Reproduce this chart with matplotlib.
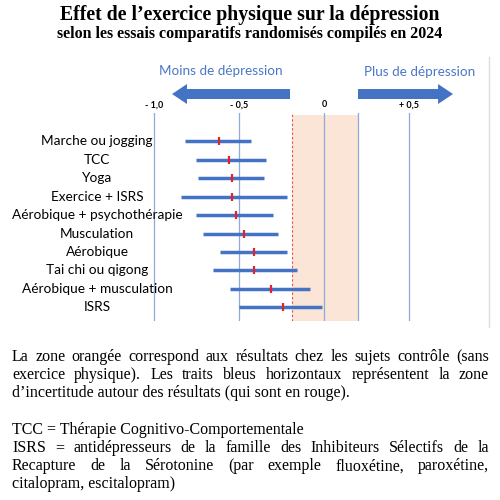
import matplotlib
matplotlib.use('Agg')
import matplotlib.pyplot as plt
from matplotlib.patches import FancyArrow

# valeurs (taille d'effet et intervalle)
traitements = ['Marche ou jogging', 'TCC', 'Yoga', 'Exercice + ISRS',
               'Aérobique + psychothérapie', 'Musculation', 'Aérobique',
               'Tai chi ou qigong', 'Aérobique + musculation', 'ISRS']
effet = [-0.62, -0.56, -0.54, -0.54, -0.52, -0.47, -0.41, -0.41, -0.31, -0.24]
bas = [-0.82, -0.75, -0.74, -0.84, -0.75, -0.71, -0.61, -0.65, -0.55, -0.50]
haut = [-0.43, -0.34, -0.35, -0.22, -0.30, -0.27, -0.22, -0.16, -0.08, -0.01]
zone_controle = [-0.19, 0.20]
graduations = [-1.0, -0.5, 0, 0.5]
etiquettes = ['- 1,0', '- 0,5', '0', '+ 0,5']

titre = 'Effet de l’exercice physique sur la dépression'
sous_titre = 'selon les essais comparatifs randomisés compilés en 2024'
texte = [
    ('La zone orangée correspond aux résultats chez les sujets contrôle (sans', True),
    ('exercice physique). Les traits bleus horizontaux représentent la zone', True),
    ('d’incertitude autour des résultats (qui sont en rouge).', False),
    ('', False),
    ('TCC = Thérapie Cognitivo-Comportementale', False),
    ('ISRS = antidépresseurs de la famille des Inhibiteurs Sélectifs de la', True),
    ('Recapture de la Sérotonine (par exemple fluoxétine, paroxétine,', True),
    ('citalopram, escitalopram)', False),
]

BLEU = '#4472C4'
SERIF = 'Liberation Serif'
SANS = 'Lato'


def justifier(ax, lignes, x0, x1, y0, pas, renderer, **kw):
    for k, (ligne, just) in enumerate(lignes):
        y = y0 + k * pas
        if not ligne:
            continue
        if not just:
            ax.text(x0, y, ligne, va='center', ha='left', **kw)
            continue
        mots = ligne.split()
        objets = [ax.text(0, y, m, va='center', ha='left', **kw) for m in mots]
        larg = [o.get_window_extent(renderer).width for o in objets]
        esp = (x1 - x0 - sum(larg)) / (len(mots) - 1)
        x = x0
        for o, w in zip(objets, larg):
            o.set_x(x)
            x += w + esp


fig = plt.figure(figsize=(5, 5), dpi=100)
fig.patch.set_facecolor('white')

# calque en pixels pour les textes
ax0 = fig.add_axes([0, 0, 1, 1])
ax0.set_xlim(0, 500)
ax0.set_ylim(500, 0)
ax0.axis('off')

ax0.text(250, 15, titre, ha='center', va='center', fontsize=14.2,
         fontweight='bold', family=SERIF)
ax0.text(250, 34, sous_titre, ha='center', va='center', fontsize=11.5,
         fontweight='bold', family=SERIF)
ax0.plot([489, 489], [57, 327], color='#dcdcdc', lw=1)

# graphique
ax = fig.add_axes([0, 1 - 321 / 500, 1, 208 / 500])
ax.set_xlim(-324 / 170, 176 / 170)
ax.set_ylim(9.73, -1.514)
ax.axis('off')
ax.patch.set_alpha(0)

ax.axvspan(zone_controle[0], zone_controle[1], ymax=0.99, color='#FBE5D6', lw=0)
for g in graduations + [zone_controle[1]]:
    ax.axvline(g, color='#8EA9DB', lw=0.9)
ax.axvline(zone_controle[0], color='#e8202a', lw=0.8, ls=(0, (2, 2)), alpha=0.8)

lignes = list(range(len(traitements)))
ax.hlines(lignes, bas, haut, color=BLEU, lw=2.5)
ax.plot(effet, lignes, ls='none', marker='|', ms=5.5, mew=1.6, color='#e8202a')

for i, nom in enumerate(traitements):
    ax.text(-1.335, i, nom, ha='center', va='center', fontsize=9.8, family=SANS)

for g, lab in zip(graduations, etiquettes):
    ax.text(g, -1.95, lab, ha='center', va='center', fontsize=6.5,
            fontweight='bold', family=SANS)

# flèches
ax.add_patch(FancyArrow(-0.2, -2.54, -0.694, 0, width=0.54, head_width=1.08,
                        head_length=0.088, length_includes_head=True,
                        color=BLEU, lw=0, clip_on=False))
ax.add_patch(FancyArrow(0.2, -2.54, 0.559, 0, width=0.54, head_width=1.08,
                        head_length=0.088, length_includes_head=True,
                        color=BLEU, lw=0, clip_on=False))
ax.text(-0.606, -3.78, 'Moins de dépression', ha='center', va='center',
        fontsize=9.7, color='#4A76C6', family=SANS)
ax.text(0.565, -3.73, 'Plus de dépression', ha='center', va='center',
        fontsize=9.7, color='#4A76C6', family=SANS)

renderer = fig.canvas.get_renderer()
justifier(ax0, texte, 12, 489, 357, 18.2, renderer, fontsize=11.5, family=SERIF)

fig.savefig('out.png', dpi=100)
